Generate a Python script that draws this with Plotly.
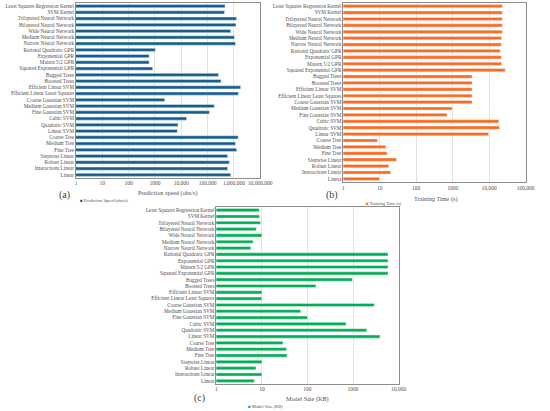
import plotly.graph_objects as go

# models, listed top to bottom as in the chart
models = [
    "Least Squares Regression Kernel", "SVM Kernel", "Trilayered Neural Network",
    "Bilayered Neural Network", "Wide Neural Network", "Medium Neural Network",
    "Narrow Neural Network", "Rational Quadratic GPR", "Exponential GPR",
    "Matern 5/2 GPR", "Squared Exponential GPR", "Bagged Trees", "Boosted Trees",
    "Efficient Linear SVM", "Efficient Linear Least Squares", "Coarse Gaussian SVM",
    "Medium Gaussian SVM", "Fine Gaussian SVM", "Cubic SVM", "Quadratic SVM",
    "Linear SVM", "Coarse Tree", "Medium Tree", "Fine Tree", "Stepwise Linear",
    "Robust Linear", "Interactions Linear", "Linear",
]

prediction_speed = [
    460000, 440000, 1250000, 1200000, 760000, 1050000, 1150000, 1030, 600, 600,
    820, 260000, 325000, 1800000, 1480000, 2350, 178000, 117000, 16000, 7500,
    7100, 1450000, 1150000, 1280000, 580000, 670000, 580000, 760000,
]

training_time = [
    23000, 23000, 23000, 23000, 23000, 22000, 21500, 20000, 21500, 22000,
    27500, 3400, 3400, 3400, 3400, 3400, 970, 700, 18500, 19200,
    9600, 8.6, 14.6, 15.8, 28.7, 17.6, 19.9, 9.7,
]

model_size = [
    8.7, 8.8, 9.3, 7.5, 10, 6.4, 5.7, 5850, 5850, 5850,
    5850, 960, 153, 10, 9.9, 2930, 71, 100, 700, 2000,
    3900, 29, 34.6, 35.6, 10, 7.4, 10, 6.8,
]

ticks_a = ["1", "10", "100", "1000", "10,000", "100,000", "1,000,000", "10,000,000"]
ticks_b = ["1", "10", "100", "1000", "10,000", "100,000"]
ticks_c = ["1", "10", "100", "1000", "10,000"]

FONT = "Liberation Serif"
TXT = "#505050"
BLUE = "#135E8C"
ORANGE = "#FF6A1A"
GREEN = "#00B050"

fig = go.Figure()

fig.add_trace(go.Bar(y=models, x=prediction_speed, orientation="h",
                     marker_color=BLUE, xaxis="x", yaxis="y"))
fig.add_trace(go.Bar(y=models, x=training_time, orientation="h",
                     marker_color=ORANGE, xaxis="x2", yaxis="y2"))
fig.add_trace(go.Bar(y=models, x=model_size, orientation="h",
                     marker_color=GREEN, xaxis="x3", yaxis="y3"))


def xaxis(domain, ticks, anchor):
    return dict(
        domain=domain, anchor=anchor, type="log",
        range=[0, len(ticks) - 1],
        tickmode="array",
        tickvals=[10 ** i for i in range(len(ticks))], ticktext=ticks,
        tickfont=dict(size=5.5, color=TXT),
        showgrid=True, gridcolor="#E3E3E3", gridwidth=0.6,
        showline=True, mirror=True, linecolor="#8C8C8C", linewidth=0.8,
        ticks="", zeroline=False,
    )


def yaxis(domain, anchor):
    return dict(
        domain=domain, anchor=anchor, autorange="reversed",
        tickmode="array", tickvals=models, ticktext=models,
        tickfont=dict(size=5.2, color=TXT),
        showline=True, mirror=True, linecolor="#8C8C8C", linewidth=0.8,
        ticks="", showgrid=False,
    )


fig.update_layout(
    width=550, height=411,
    margin=dict(l=0, r=0, t=0, b=0),
    paper_bgcolor="white", plot_bgcolor="white",
    font=dict(family=FONT, color=TXT),
    bargap=0.5, showlegend=False,
    xaxis=xaxis([0.140, 0.4836], ticks_a, "y"),
    yaxis=yaxis([0.567, 0.9927], "x"),
    xaxis2=xaxis([0.6387, 0.9787], ticks_b, "y2"),
    yaxis2=yaxis([0.557, 0.9927], "x2"),
    xaxis3=xaxis([0.4018, 0.7418], ticks_c, "y3"),
    yaxis3=yaxis([0.0657, 0.4964], "x3"),
)

# axis titles, panel labels and legend entries (pixel positions from the top-left)
notes = [
    ("Prediction speed (obs/s)", 171, 193, 6.2, TXT),
    ("Training Time (s)", 446, 199, 6.2, TXT),
    ("Model Size (KB)", 315, 398.5, 6.2, TXT),
    ("(a)", 65, 195, 10, "#404040"),
    ("(b)", 340, 195, 10, "#404040"),
    ("(c)", 204, 398, 10, "#404040"),
]
for text, px, py, size, color in notes:
    fig.add_annotation(text=text, x=px / 550, y=1 - py / 411, xref="paper", yref="paper",
                       xanchor="center", yanchor="middle", borderpad=0,
                       showarrow=False, font=dict(size=size, color=color))

legends = [
    ("Prediction Speed (obs/s)", BLUE, 80, 200),
    ("Training Time (s)", ORANGE, 374, 203.5),
    ("Model Size (KB)", GREEN, 252, 406),
]
for text, color, px, py in legends:
    fig.add_annotation(text=f"<span style='color:{color}'>■</span> {text}",
                       x=px / 550, y=1 - py / 411, xref="paper", yref="paper",
                       xanchor="left", yanchor="middle", showarrow=False, borderpad=0,
                       font=dict(size=4.5, color=TXT))

# drop the browser's default page margin so the figure sits at the window corner
fig.write_html("out.html", config={"displayModeBar": False},
               post_script="document.body.style.margin='0';")
